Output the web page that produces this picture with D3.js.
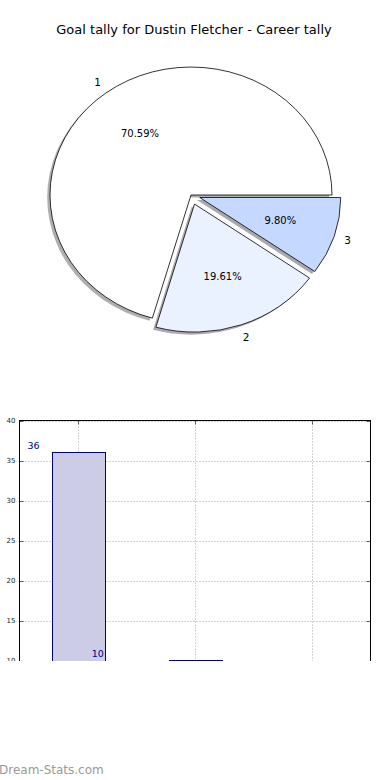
<!DOCTYPE html>
<html>
<head>
<meta charset="utf-8">
<script src="https://cdn.jsdelivr.net/npm/d3@7"></script>
<style>
  body { margin: 0; background: #fff; }
  svg { display: block; }
  text { font-family: "DejaVu Sans", sans-serif; }
</style>
</head>
<body>
<div id="chart"></div>
<script>
// Data
let title = "Goal tally for Dustin Fletcher - Career tally";
let sliceLabels = ["1", "2", "3"];
let goals = [36, 10, 5];
let sliceColors = ["#ffffff", "#eaf1ff", "#c5d8ff"];
let explode = [0, 0.075, 0.065];
let yTicks = [10, 15, 20, 25, 30, 35, 40];

let svgWidth = 390;
let svgHeight = 780;

let svg = d3.select("#chart").append("svg").attr("width", svgWidth).attr("height", svgHeight);

svg.append("text")
  .attr("x", 194)
  .attr("y", 34)
  .attr("text-anchor", "middle")
  .attr("font-size", 13)
  .attr("fill", "#000")
  .text(title);

// Pie =========================
let cx = 191, cy = 195, rx = 141, ry = 128;
let total = d3.sum(goals);

let pie = d3.pie().sort(null).startAngle(Math.PI / 2).endAngle(Math.PI / 2 - 2 * Math.PI);
let arcs = pie(goals);
let arc = d3.arc().innerRadius(0).outerRadius(1);

let offsetOf = (d, i, k) => {
  let a = (d.startAngle + d.endAngle) / 2;
  return [cx + (k + explode[i]) * rx * Math.sin(a),
          cy - (k + explode[i]) * ry * Math.cos(a)];
};
let centerOf = (d, i) => offsetOf(d, i, 0);

let pieGroup = svg.append("g");

// shadows first, under all wedges
pieGroup.selectAll(".shadow")
  .data(arcs)
  .enter()
  .append("path")
  .attr("class", "shadow")
  .attr("d", arc)
  .attr("transform", (d, i) => {
    let c = centerOf(d, i);
    return `translate(${c[0] - 0.02 * rx}, ${c[1] + 0.02 * ry}) scale(${rx}, ${ry})`;
  })
  .attr("fill", (d, i) => {
    let c = d3.rgb(sliceColors[i]);
    return d3.rgb(c.r * 0.3, c.g * 0.3, c.b * 0.3).toString();
  })
  .attr("opacity", 0.45);

pieGroup.selectAll(".wedge")
  .data(arcs)
  .enter()
  .append("path")
  .attr("class", "wedge")
  .attr("d", arc)
  .attr("transform", (d, i) => {
    let c = centerOf(d, i);
    return `translate(${c[0]}, ${c[1]}) scale(${rx}, ${ry})`;
  })
  .attr("fill", (d, i) => sliceColors[i])
  .attr("stroke", "#000")
  .attr("stroke-width", 0.8)
  .attr("vector-effect", "non-scaling-stroke");

pieGroup.selectAll(".plabel")
  .data(arcs)
  .enter()
  .append("text")
  .attr("class", "plabel")
  .attr("x", (d, i) => offsetOf(d, i, 1.1)[0])
  .attr("y", (d, i) => offsetOf(d, i, 1.1)[1])
  .attr("dy", "0.35em")
  .attr("text-anchor", "middle")
  .attr("font-size", 10.5)
  .text((d, i) => sliceLabels[i]);

pieGroup.selectAll(".pct")
  .data(arcs)
  .enter()
  .append("text")
  .attr("class", "pct")
  .attr("x", (d, i) => offsetOf(d, i, 0.6)[0])
  .attr("y", (d, i) => offsetOf(d, i, 0.6)[1])
  .attr("dy", "0.35em")
  .attr("text-anchor", "middle")
  .attr("font-size", 10)
  .text(d => (d.value / total * 100).toFixed(2) + "%");

// Bars =========================
let plotLeft = 19.5, plotRight = 370.5, plotTop = 420.5, plotBottom = 660.5;

let xScale = d3.scaleLinear().domain([0, 3]).range([plotLeft, plotRight]);
let yScale = d3.scaleLinear().domain([10, 40]).range([plotBottom, plotTop]);

svg.append("defs").append("clipPath").attr("id", "cut")
  .append("rect").attr("x", 0).attr("y", 0).attr("width", svgWidth).attr("height", 661);

let barGroup = svg.append("g").attr("clip-path", "url(#cut)");

// grid
barGroup.selectAll(".hgrid")
  .data(yTicks)
  .enter()
  .append("line")
  .attr("x1", plotLeft).attr("x2", plotRight)
  .attr("y1", d => Math.round(yScale(d)) + 0.5)
  .attr("y2", d => Math.round(yScale(d)) + 0.5)
  .attr("stroke", "#a8a8a8")
  .attr("stroke-dasharray", "1,2");

barGroup.selectAll(".vgrid")
  .data(goals)
  .enter()
  .append("line")
  .attr("x1", (d, i) => Math.round(xScale(i + 0.5)) + 0.5)
  .attr("x2", (d, i) => Math.round(xScale(i + 0.5)) + 0.5)
  .attr("y1", plotTop).attr("y2", plotBottom + 10)
  .attr("stroke", "#a8a8a8")
  .attr("stroke-dasharray", "1,2");

let barWidth = 0.45;
barGroup.selectAll(".bar")
  .data(goals)
  .enter()
  .append("rect")
  .attr("x", (d, i) => Math.round(xScale(i + 0.5 - barWidth / 2)) + 0.5)
  .attr("width", (d, i) => Math.round(xScale(barWidth) - xScale(0)))
  .attr("y", d => yScale(d))
  .attr("height", d => yScale(0) - yScale(d))
  .attr("fill", "#ccccE6")
  .attr("stroke", "#000080")
  .attr("stroke-width", 1);

barGroup.selectAll(".blabel")
  .data(goals)
  .enter()
  .append("text")
  .attr("x", (d, i) => xScale(0.12 + i * 0.55))
  .attr("y", d => yScale(d + 0.4))
  .attr("text-anchor", "middle")
  .attr("font-size", 9.5)
  .attr("fill", "#000080")
  .text(d => d);

// frame
barGroup.append("rect")
  .attr("x", plotLeft).attr("y", plotTop)
  .attr("width", plotRight - plotLeft).attr("height", plotBottom - plotTop + 20)
  .attr("fill", "none")
  .attr("stroke", "#000")
  .attr("stroke-width", 1);

// ticks (inside, both sides)
barGroup.selectAll(".ltick")
  .data(yTicks)
  .enter()
  .append("path")
  .attr("d", d => {
    let y = Math.round(yScale(d)) + 0.5;
    return `M${plotLeft},${y}h4M${plotRight},${y}h-4`;
  })
  .attr("stroke", "#000")
  .attr("stroke-width", 0.6);

barGroup.selectAll(".ttick")
  .data(goals)
  .enter()
  .append("path")
  .attr("d", (d, i) => {
    let x = Math.round(xScale(i + 0.5)) + 0.5;
    return `M${x},${plotTop}v4`;
  })
  .attr("stroke", "#000")
  .attr("stroke-width", 0.6);

barGroup.selectAll(".ylabel")
  .data(yTicks)
  .enter()
  .append("text")
  .attr("x", plotLeft - 4)
  .attr("y", d => yScale(d))
  .attr("dy", "0.35em")
  .attr("text-anchor", "end")
  .attr("font-size", 7)
  .attr("fill", "#222")
  .text(d => d);

// watermark
svg.append("text")
  .attr("x", -1)
  .attr("y", 774)
  .attr("font-family", "'Open Sans', sans-serif")
  .attr("font-size", 12)
  .attr("fill", "#999")
  .text("Dream-Stats.com");
</script>
</body>
</html>
